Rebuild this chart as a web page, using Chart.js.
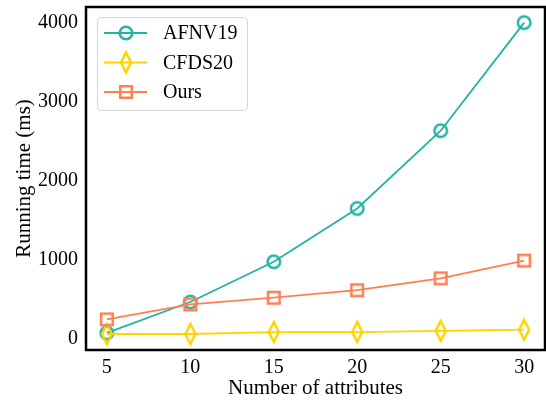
<!DOCTYPE html>
<html>
<head>
<meta charset="utf-8">
<script src="https://cdn.jsdelivr.net/npm/chart.js@4/dist/chart.umd.min.js"></script>
<style>
  html, body { margin: 0; padding: 0; background: #fff; }
</style>
</head>
<body>
<canvas id="chart" width="546" height="401"></canvas>
<script>
// values
var attributes = [5, 10, 15, 20, 25, 30];
var afnv19 = [70, 460, 970, 1645, 2630, 4000];
var cfds20 = [55, 55, 80, 80, 95, 110];
var ours = [240, 430, 515, 610, 760, 985];
var xTicks = [5, 10, 15, 20, 25, 30];
var yTicks = [0, 1000, 2000, 3000, 4000];
var seriesNames = ["AFNV19", "CFDS20", "Ours"];

var TEAL = "#22b2a6";
var GOLD = "#ffd200";
var CORAL = "#ff7f50";
var FONT = "'Liberation Serif', 'DejaVu Serif', serif";

// hollow markers, drawn once into small canvases
function makeMarker(shape, color) {
    var c = document.createElement("canvas");
    c.width = 26;
    c.height = 26;
    var g = c.getContext("2d");
    g.strokeStyle = color;
    g.lineWidth = 2.5;
    g.beginPath();
    if (shape === "circle") {
        g.arc(13, 13, 6.3, 0, Math.PI * 2);
    } else if (shape === "square") {
        g.rect(13 - 5.8, 13 - 5.8, 11.6, 11.6);
    } else {
        g.moveTo(13, 13 - 10);
        g.lineTo(13 + 5, 13);
        g.lineTo(13, 13 + 10);
        g.lineTo(13 - 5, 13);
        g.closePath();
    }
    g.stroke();
    return c;
}

var markers = [makeMarker("circle", TEAL), makeMarker("diamond", GOLD), makeMarker("square", CORAL)];
var colors = [TEAL, GOLD, CORAL];

function points(values) {
    return attributes.map(function (x, i) { return {x: x, y: values[i]}; });
}

// matplotlib style legend: line with marker in the middle
var legendPlugin = {
    id: "mplLegend",
    afterDraw: function (chart) {
        var ctx = chart.ctx;
        var x0 = 97, y0 = 17, w = 150, h = 93;
        ctx.save();
        ctx.beginPath();
        ctx.roundRect(x0 + 0.5, y0 + 0.5, w, h, 4);
        ctx.fillStyle = "rgba(255,255,255,0.8)";
        ctx.fill();
        ctx.strokeStyle = "#d6d6d6";
        ctx.lineWidth = 1;
        ctx.stroke();
        ctx.font = "20px " + FONT;
        ctx.textBaseline = "middle";
        ctx.fillStyle = "#000";
        for (var i = 0; i < seriesNames.length; i++) {
            var cy = 33 + i * 29.5;
            ctx.beginPath();
            ctx.moveTo(104, cy);
            ctx.lineTo(147, cy);
            ctx.strokeStyle = colors[i];
            ctx.lineWidth = 1.8;
            ctx.stroke();
            ctx.drawImage(markers[i], 126 - 13, cy - 13);
            ctx.fillText(seriesNames[i], 163, cy + 1);
        }
        ctx.restore();
    }
};

// the box round the plot
var framePlugin = {
    id: "frame",
    afterDatasetsDraw: function (chart) {
        var a = chart.chartArea;
        var ctx = chart.ctx;
        ctx.save();
        ctx.strokeStyle = "#000";
        ctx.lineWidth = 2.5;
        ctx.strokeRect(a.left, a.top, a.right - a.left, a.bottom - a.top);
        ctx.restore();
    }
};

function plain(v) { return String(v); }

new Chart(document.getElementById("chart"), {
    type: "line",
    data: {
        datasets: [
            {label: seriesNames[0], data: points(afnv19), borderColor: TEAL, order: 2},
            {label: seriesNames[1], data: points(cfds20), borderColor: GOLD, order: 1},
            {label: seriesNames[2], data: points(ours), borderColor: CORAL, order: 0}
        ].map(function (d, i) {
            d.borderWidth = 1.8;
            d.pointStyle = markers[i];
            d.pointRadius = 7;
            d.pointHoverRadius = 7;
            d.tension = 0;
            d.fill = false;
            return d;
        })
    },
    options: {
        responsive: false,
        animation: false,
        events: [],
        layout: {autoPadding: false, padding: {top: 7, right: 1, left: 0, bottom: 0}},
        plugins: {legend: {display: false}, tooltip: {enabled: false}},
        scales: {
            x: {
                type: "linear",
                min: 3.75,
                max: 31.25,
                afterBuildTicks: function (s) { s.ticks = xTicks.map(function (v) { return {value: v}; }); },
                afterFit: function (s) { s.height = 51; s.paddingLeft = 0; s.paddingRight = 0; },
                grid: {display: false, drawTicks: true, tickLength: 5, tickColor: "#000", tickWidth: 1.2},
                border: {display: false},
                ticks: {color: "#000", font: {family: FONT, size: 20}, padding: 1, maxRotation: 0, callback: plain},
                title: {display: true, text: "Number of attributes", color: "#000",
                        font: {family: FONT, size: 21}, padding: {top: 0, bottom: 0}}
            },
            y: {
                type: "linear",
                min: -147.5,
                max: 4197.5,
                afterBuildTicks: function (s) { s.ticks = yTicks.map(function (v) { return {value: v}; }); },
                afterFit: function (s) { s.width = 86; s.paddingTop = 0; s.paddingBottom = 0; },
                grid: {display: false, drawTicks: true, tickLength: 5, tickColor: "#000", tickWidth: 1.2},
                border: {display: false},
                ticks: {color: "#000", font: {family: FONT, size: 20}, padding: 3, callback: plain},
                title: {display: true, text: "Running time (ms)", color: "#000",
                        font: {family: FONT, size: 21}, padding: {top: 12, bottom: 0}}
            }
        }
    },
    plugins: [framePlugin, legendPlugin]
});
</script>
</body>
</html>
